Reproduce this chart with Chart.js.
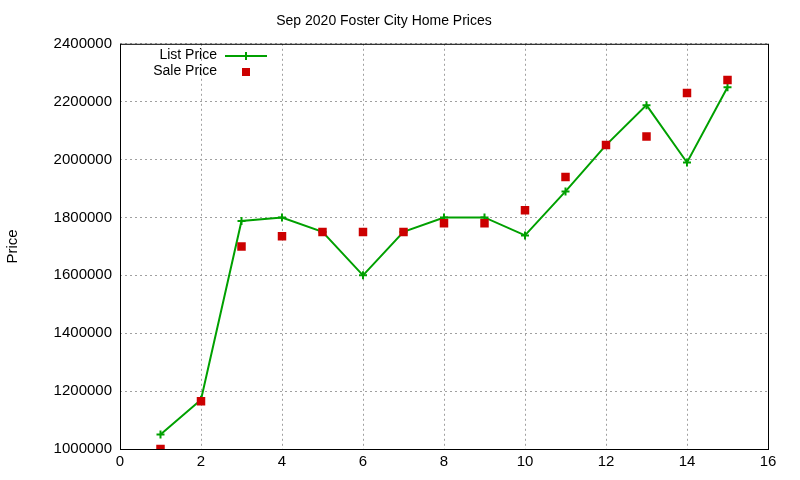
<!DOCTYPE html>
<html>
<head>
<meta charset="utf-8">
<script src="https://cdn.jsdelivr.net/npm/chart.js@4"></script>
<style>
  body { margin: 0; background: #fff; }
  #wrap { width: 800px; height: 480px; }
</style>
</head>
<body>
<div id="wrap"><canvas id="homeChart" width="800" height="480"></canvas></div>
<script>
const listX = [1, 2, 3, 4, 5, 6, 7, 8, 9, 10, 11, 12, 13, 14, 15];
const listPrice = [1050000, 1170000, 1788000, 1800000, 1750000, 1600000, 1750000, 1800000, 1800000, 1738000, 1890000, 2050000, 2188000, 1990000, 2250000];
const salePrice = [1000000, 1165000, 1700000, 1735000, 1750000, 1750000, 1750000, 1780000, 1780000, 1825000, 1940000, 2050000, 2080000, 2230000, 2275000];
const xTicks = [0, 2, 4, 6, 8, 10, 12, 14, 16];
const yTicks = [1000000, 1200000, 1400000, 1600000, 1800000, 2000000, 2200000, 2400000];

const FONT = 'Liberation Sans, Arial, sans-serif';
const green = '#00a000';
const red = '#cc0000';

// gnuplot-style legend in the top-left corner of the plot
const keyPlugin = {
    id: 'gnuKey',
    afterDraw(chart) {
        const ctx = chart.ctx;
        ctx.save();
        ctx.font = '14px ' + FONT;
        ctx.fillStyle = '#000';
        ctx.textAlign = 'right';
        ctx.textBaseline = 'middle';
        ctx.fillText('List Price', 217, 55);
        ctx.fillText('Sale Price', 217, 71);
        ctx.strokeStyle = green;
        ctx.lineWidth = 2;
        ctx.beginPath();
        ctx.moveTo(225, 56); ctx.lineTo(267, 56);
        ctx.moveTo(246, 52); ctx.lineTo(246, 60);
        ctx.stroke();
        ctx.fillStyle = red;
        ctx.fillRect(242, 68, 8, 8);
        ctx.restore();
    }
};

// black frame around the plot area
const framePlugin = {
    id: 'frame',
    afterDatasetsDraw(chart) {
        const a = chart.chartArea;
        const ctx = chart.ctx;
        ctx.save();
        ctx.strokeStyle = '#000';
        ctx.lineWidth = 1;
        ctx.strokeRect(a.left + 0.5, a.top + 0.5, a.right - a.left, a.bottom - a.top);
        ctx.restore();
    }
};

new Chart(document.getElementById('homeChart').getContext('2d'), {
    type: 'scatter',
    data: {
        datasets: [{
            label: 'Sale Price',
            data: listX.map((x, i) => ({x, y: salePrice[i]})),
            showLine: false,
            borderColor: red,
            backgroundColor: red,
            pointStyle: 'rect',
            pointRadius: 6,
            pointBorderWidth: 0
        }, {
            label: 'List Price',
            data: listX.map((x, i) => ({x, y: listPrice[i]})),
            showLine: true,
            borderColor: green,
            backgroundColor: green,
            borderWidth: 2,
            pointStyle: 'cross',
            pointRadius: 4,
            pointBorderWidth: 2
        }]
    },
    options: {
        responsive: false,
        animation: false,
        layout: {padding: {top: 0, right: 32, bottom: 0, left: 0}},
        plugins: {
            legend: {display: false},
            tooltip: {enabled: false},
            title: {
                display: true,
                text: 'Sep 2020 Foster City Home Prices',
                color: '#000',
                font: {family: FONT, size: 14, weight: 'normal'},
                padding: {top: 13, bottom: 14}
            }
        },
        scales: {
            x: {
                type: 'linear',
                min: 0, max: 16,
                afterBuildTicks: s => { s.ticks = xTicks.map(v => ({value: v})); },
                ticks: {color: '#000', font: {family: FONT, size: 15}, padding: 4},
                grid: {color: '#a0a0a0', drawTicks: false, tickLength: 0},
                border: {display: false, dash: [2, 3]},
                afterFit: s => { s.height = 31; }
            },
            y: {
                min: 1000000, max: 2400000,
                afterBuildTicks: s => { s.ticks = yTicks.map(v => ({value: v})); },
                ticks: {color: '#000', font: {family: FONT, size: 15}, padding: 8, callback: v => String(v)},
                grid: {color: '#a0a0a0', drawTicks: false},
                border: {display: false, dash: [2, 3]},
                title: {display: true, text: 'Price', color: '#000', font: {family: FONT, size: 15}, padding: {bottom: 16}},
                afterFit: s => { s.width = 120; }
            }
        }
    },
    plugins: [keyPlugin, framePlugin]
});
</script>
</body>
</html>
